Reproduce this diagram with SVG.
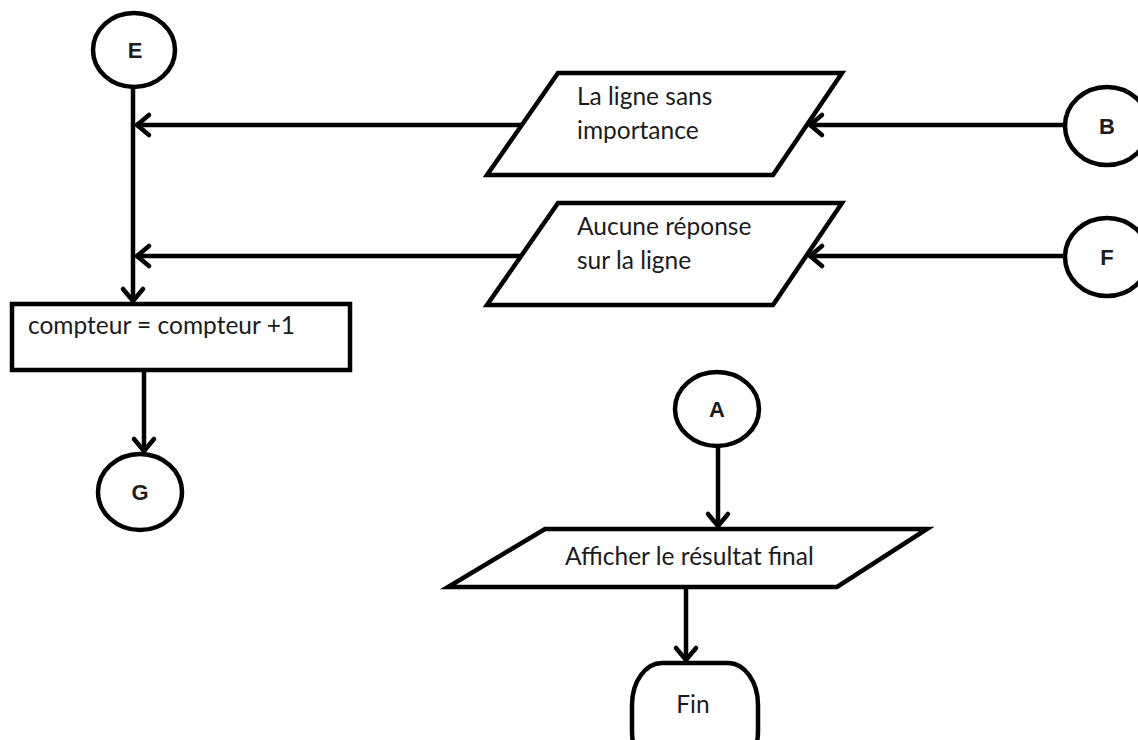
<svg xmlns="http://www.w3.org/2000/svg" width="1138" height="740" viewBox="0 0 1138 740">
  <style>
    .shape { fill: #ffffff; stroke: #000000; stroke-width: 4.5; stroke-linejoin: miter; }
    .conn { fill: none; stroke: #000000; stroke-width: 4.5; marker-end: url(#arrow); }
    .plain { fill: none; stroke: #000000; stroke-width: 4.5; }
    .label { font-family: Lato, "Liberation Sans", sans-serif; font-size: 24.5px; fill: #1c1c1c; }
    .letter { font-family: "Liberation Sans", Arial, sans-serif; font-size: 22px; font-weight: bold; fill: #1c1c1c; text-anchor: middle; }
  </style>
  <defs>
    <marker id="arrow" markerUnits="userSpaceOnUse" markerWidth="30" markerHeight="30" viewBox="-20 -15 30 30" refX="0" refY="0" orient="auto">
      <path d="M -13,-10 L -1,0 L -13,10" fill="none" stroke="#000000" stroke-width="4.5" stroke-linecap="round"/>
    </marker>
  </defs>
  <rect width="1138" height="740" fill="#ffffff"/>

  <!-- connectors -->
  <g id="connectors">
    <line class="plain" x1="133" y1="87" x2="133" y2="256"/>
    <line class="conn" x1="133" y1="256" x2="133" y2="302"/>
    <line class="conn" x1="521" y1="125" x2="136" y2="125"/>
    <line class="conn" x1="1065" y1="125" x2="809" y2="125"/>
    <line class="conn" x1="521" y1="256" x2="136" y2="256"/>
    <line class="conn" x1="1065" y1="256" x2="809" y2="256"/>
    <line class="conn" x1="144" y1="370" x2="144" y2="452"/>
    <line class="conn" x1="718" y1="446" x2="718" y2="527"/>
    <line class="conn" x1="686" y1="587" x2="686" y2="661"/>
  </g>

  <!-- connector E -->
  <g id="node-E">
    <ellipse class="shape" cx="134" cy="50" rx="41" ry="37"/>
    <text class="letter" x="135" y="58">E</text>
  </g>

  <!-- input: La ligne sans importance -->
  <g id="node-ligne-sans-importance">
    <polygon class="shape" points="558,73 842,73 773,175 487,175"/>
    <text class="label" x="577" y="105">La ligne sans</text>
    <text class="label" x="577" y="139">importance</text>
  </g>

  <!-- connector B -->
  <g id="node-B">
    <ellipse class="shape" cx="1107" cy="126" rx="42" ry="39"/>
    <text class="letter" x="1107" y="134">B</text>
  </g>

  <!-- input: Aucune réponse sur la ligne -->
  <g id="node-aucune-reponse">
    <polygon class="shape" points="558,203 842,203 773,305 487,305"/>
    <text class="label" x="577" y="235">Aucune réponse</text>
    <text class="label" x="577" y="269">sur la ligne</text>
  </g>

  <!-- connector F -->
  <g id="node-F">
    <ellipse class="shape" cx="1107" cy="257" rx="42" ry="39"/>
    <text class="letter" x="1107" y="265">F</text>
  </g>

  <!-- process: counter increment -->
  <g id="node-compteur">
    <rect class="shape" x="12" y="304" width="338" height="66"/>
    <text class="label" x="28" y="334">compteur = compteur +1</text>
  </g>

  <!-- connector G -->
  <g id="node-G">
    <ellipse class="shape" cx="140" cy="492" rx="42" ry="38"/>
    <text class="letter" x="140" y="500">G</text>
  </g>

  <!-- connector A -->
  <g id="node-A">
    <ellipse class="shape" cx="717" cy="409" rx="42" ry="37"/>
    <text class="letter" x="717" y="417">A</text>
  </g>

  <!-- output: final result -->
  <g id="node-afficher">
    <polygon class="shape" points="545,529 927,529 837,587 448,587"/>
    <text class="label" x="565" y="565">Afficher le résultat final</text>
  </g>

  <!-- terminator: Fin -->
  <g id="node-fin">
    <rect class="shape" x="632" y="663" width="126" height="110" rx="30" ry="42"/>
    <text class="label" x="693" y="713" text-anchor="middle">Fin</text>
  </g>
</svg>
